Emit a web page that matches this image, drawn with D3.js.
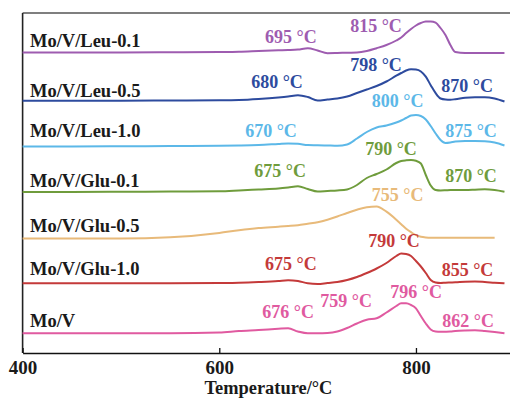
<!DOCTYPE html>
<html>
<head>
<meta charset="utf-8">
<script src="https://cdn.jsdelivr.net/npm/d3@7"></script>
<style>
  html, body { margin: 0; padding: 0; background: #fff; }
  svg { display: block; }
  text { font-family: "Liberation Serif", "Times New Roman", serif; font-weight: bold; }
</style>
</head>
<body>
<svg id="chart" width="510" height="399"></svg>
<script>
// ---- data ----
const temps = [400,450,500,550,600,620,640,660,670,680,690,700,710,720,730,740,750,760,770,780,785,790,795,800,805,810,815,820,825,830,835,840,850,860,870,880,890];

const seriesNames = ["Mo/V/Leu-0.1","Mo/V/Leu-0.5","Mo/V/Leu-1.0","Mo/V/Glu-0.1","Mo/V/Glu-0.5","Mo/V/Glu-1.0","Mo/V"];
const seriesOffsets = [30.0, 25.23, 20.65, 16.1, 11.45, 6.97, 1.97];
const seriesColors = ["#9e5cb0","#2d4b9e","#5cb8e8","#6f9c3c","#e8ba7a","#c43a3a","#e05aa0"];

const leu01 = [0.05,0.05,0.05,0.07, 0.1,0.13,0.2,0.27, 0.3,0.35,0.48,0.25, -0.02,0,0.03,0.05, 0.2,0.48,0.8,1.25, 1.55,2.0,2.4,2.75, 3.0,3.14,3.15,3.03, 2.5,1.8,0.8,0.1, 0,0,0,0,0];
const leu05 = [0,0,0,0.02, 0.04,0.07,0.17,0.32, 0.42,0.55,0.37,0.02, 0.12,0.22,0.42,0.77, 1.12,1.47,1.92,2.5, 2.77,3.02,3.14,3.11, 2.92,2.4,1.55,0.75, 0.22,0.12,0.1,0.15, 0.3,0.35,0.35,0.22,-0.08];
const leu10 = [0,0,0.02,0.05, 0.07,0.1,0.15,0.25, 0.3,0.27,0.15,0.13, 0.1,0.07,0.2,0.8, 1.45,1.9,2.1,2.4, 2.6,2.85,3.1,3.15, 3.05,2.7,2.05,1.3, 0.65,0.35,0.4,0.5, 0.55,0.55,0.52,0.4,0.1];
const glu01 = [0,0,0.02,0.05, 0.07,0.15,0.25,0.35, 0.45,0.57,0.3,0.05, 0.1,0.15,0.25,0.7, 1.4,1.8,2.25,2.9, 3.1,3.17,3.2,3.12, 2.85,1.7,0.65,0.2, 0.15,0.17,0.2,0.2, 0.2,0.23,0.27,0.2,0.03];
const glu05 = [0,0,0,0.12, 0.55,0.83,1.05,1.18, 1.25,1.33,1.48,1.63, 1.88,2.2,2.55,2.88, 3.13,3.2,2.68,1.88, 1.43,0.98,0.63,0.33, 0.18,0.11,0.08,0.08, 0.08,0.08,0.08,0.08, 0.08,0.08,0.08,0.08,null];
const glu10 = [0,0,0,0, 0.03,0.06,0.13,0.23, 0.31,0.23,0,-0.07, 0.03,0.13,0.33,0.63, 1.03,1.48,2.03,2.73, 2.98,2.93,2.73,2.23, 1.68,1.03,0.33,0.08, 0.03,0.06,0.08,0.1, 0.16,0.18,0.13,0.06,0];
const moV   = [0,0,0,0, 0.08,0.23,0.33,0.45, 0.5,0.18,0,0, 0.03,0.18,0.53,0.98, 1.36,1.5,2.08,2.73, 3.0,3.0,2.83,2.5, 1.73,0.98,0.38,0.18, 0.15,0.16,0.18,0.23, 0.28,0.3,0.23,0.13,0];

const seriesValues = [leu01, leu05, leu10, glu01, glu05, glu10, moV];

// name labels: temperature (x) and absolute signal (y) of the text baseline
const nameLabelT = 407.5;
const nameLabelY = [30.63, 25.63, 21.57, 16.63, 12.13, 7.8, 2.63];

// peak annotations: series index, text, temperature (x), absolute signal (y)
const annSeries = [0,0, 1,1,1, 2,2,2, 3,3,3, 4, 5,5,5, 6,6,6,6];
const annText = ["695 °C","815 °C", "680 °C","798 °C","870 °C", "670 °C","800 °C","875 °C",
                 "675 °C","790 °C","870 °C", "755 °C", "675 °C","790 °C","855 °C",
                 "676 °C","759 °C","796 °C","862 °C"];
const annT = [672.9,759.4, 658.7,759.4,852.1, 652.6,781.3,856, 661.8,774.6,856, 781.3, 672.9,777.7,852.4, 670,728.9,800.1,853.1];
const annY = [31.0,32.1, 26.5,28.2,26.1, 21.6,24.6,21.6, 17.6,19.8,17.1, 15.25, 8.3,10.6,7.7, 3.5,4.6,5.5,2.6];

const xTicks = [400, 600, 800];
const xTitle = "Temperature/°C";

// ---- drawing ----
const svg = d3.select("#chart");
const x = d3.scaleLinear().domain([400, 900]).range([22.6, 514.3]);
const y = d3.scaleLinear().domain([0, 34]).range([353, 13]);

// frame (top and left)
svg.append("line").attr("x1", x(400)).attr("x2", x(900)).attr("y1", y(34)).attr("y2", y(34))
  .attr("stroke", "#555").attr("stroke-width", 1.6);
svg.append("line").attr("x1", x(400)).attr("x2", x(400)).attr("y1", y(34)).attr("y2", y(0))
  .attr("stroke", "#222").attr("stroke-width", 1.6);

// curves
const line = d3.line()
  .defined(d => d[1] !== null)
  .x(d => x(d[0]))
  .y(d => y(d[1]))
  .curve(d3.curveMonotoneX);

seriesValues.forEach((vals, i) => {
  const pts = temps.map((t, k) => [t, vals[k] === null ? null : vals[k] + seriesOffsets[i]]);
  svg.append("path")
    .datum(pts)
    .attr("fill", "none")
    .attr("stroke", seriesColors[i])
    .attr("stroke-width", 2)
    .attr("stroke-linejoin", "round")
    .attr("d", line);
});

// series name labels
seriesNames.forEach((n, i) => {
  svg.append("text")
    .attr("x", x(nameLabelT))
    .attr("y", y(nameLabelY[i]))
    .attr("font-size", 18.5)
    .attr("fill", "#1a1a1a")
    .text(n);
});

// peak annotations
annText.forEach((t, i) => {
  svg.append("text")
    .attr("x", x(annT[i]))
    .attr("y", y(annY[i]))
    .attr("text-anchor", "middle")
    .attr("font-size", 18)
    .attr("fill", seriesColors[annSeries[i]])
    .text(t);
});

// x axis
const xAxis = d3.axisBottom(x).tickValues(xTicks).tickSize(-5).tickSizeOuter(0).tickPadding(8).tickFormat(d3.format("d"));
const gx = svg.append("g").attr("transform", `translate(0,${y(0)})`).call(xAxis);
gx.select(".domain").attr("stroke", "#111").attr("stroke-width", 1.6);
gx.selectAll(".tick line").attr("stroke", "#111").attr("stroke-width", 1.3);
gx.selectAll(".tick text")
  .attr("font-family", "'Liberation Serif', 'Times New Roman', serif")
  .attr("font-weight", "bold")
  .attr("font-size", 19)
  .attr("fill", "#1a1a1a");

svg.append("text")
  .attr("x", (x(400) + x(900)) / 2)
  .attr("y", 394)
  .attr("text-anchor", "middle")
  .attr("font-size", 18.4)
  .attr("fill", "#1a1a1a")
  .text(xTitle);
</script>
</body>
</html>
